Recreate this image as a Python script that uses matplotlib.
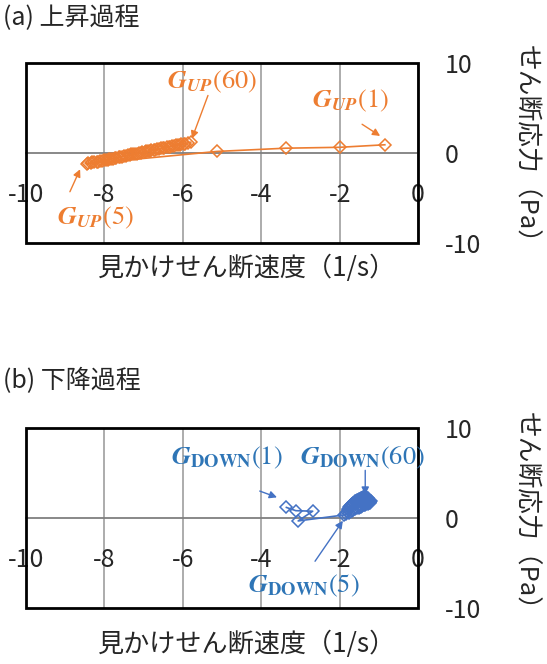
import matplotlib
matplotlib.use('Agg')
import matplotlib.pyplot as plt
from matplotlib.patches import Rectangle

plt.rcParams['font.family'] = ['Noto Sans CJK JP', 'DejaVu Sans']
plt.rcParams['mathtext.fontset'] = 'stix'

# shear rate (1/s) and shear stress (Pa), rising process, cycles 1..60
up_x = [-0.85, -2.00, -3.38, -5.13,
        -8.45, -8.41, -8.35, -8.31, -8.26, -8.20, -8.16, -8.12, -8.06, -8.02,
        -7.97, -7.92, -7.88, -7.84, -7.78, -7.74, -7.70, -7.64, -7.60, -7.55,
        -7.50, -7.46, -7.40, -7.36, -7.32, -7.27, -7.21, -7.17, -7.13, -7.08,
        -7.03, -6.97, -6.94, -6.88, -6.84, -6.80, -6.74, -6.70, -6.66, -6.60,
        -6.55, -6.51, -6.47, -6.41, -6.36, -6.32, -6.27, -6.23, -6.17, -6.13,
        -6.08, -6.04, -5.98, -5.94, -5.88, -5.80]
up_y = [0.92, 0.64, 0.54, 0.18,
        -1.20, -1.15, -1.12, -1.05, -1.03, -0.97, -0.95, -0.89, -0.86, -0.80,
        -0.78, -0.72, -0.69, -0.63, -0.61, -0.55, -0.52, -0.47, -0.42, -0.40,
        -0.33, -0.31, -0.25, -0.22, -0.16, -0.14, -0.08, -0.05, 0.01, 0.03,
        0.10, 0.12, 0.19, 0.20, 0.27, 0.29, 0.35, 0.37, 0.44, 0.46,
        0.52, 0.55, 0.61, 0.64, 0.69, 0.72, 0.78, 0.81, 0.86, 0.89,
        0.95, 0.98, 1.03, 1.06, 1.12, 1.20]

# falling process, cycles 1..60
down_x = [-3.36, -3.12, -2.69, -3.06, -1.88,
          -1.84, -1.76, -1.82, -1.70, -1.80, -1.66, -1.78, -1.60, -1.76, -1.56,
          -1.74, -1.52, -1.72, -1.48, -1.70, -1.45, -1.68, -1.42, -1.66, -1.38,
          -1.64, -1.35, -1.62, -1.32, -1.60, -1.28, -1.58, -1.26, -1.56, -1.24,
          -1.54, -1.22, -1.52, -1.24, -1.50, -1.21, -1.48, -1.23, -1.46, -1.26,
          -1.44, -1.25, -1.42, -1.28, -1.45, -1.30, -1.40, -1.27, -1.41, -1.32,
          -1.38, -1.31, -1.39, -1.34, -1.35]
down_y = [1.18, 0.82, 0.76, -0.32, 0.35,
          0.45, 0.58, 0.72, 0.80, 0.92, 0.90, 1.05, 1.00, 1.18, 1.08,
          1.30, 1.15, 1.40, 1.20, 1.50, 1.28, 1.58, 1.34, 1.64, 1.40,
          1.72, 1.46, 1.78, 1.52, 1.84, 1.58, 1.90, 1.62, 1.96, 1.68,
          2.00, 1.74, 2.05, 1.80, 2.08, 1.86, 2.12, 1.92, 2.15, 1.98,
          2.18, 2.04, 2.22, 2.10, 2.24, 2.15, 2.27, 2.20, 2.30, 2.24,
          2.32, 2.28, 2.34, 2.30, 2.35]

x_ticks = [-10, -8, -6, -4, -2, 0]
y_ticks = [-10, 0, 10]

ORANGE = '#ED7D31'
BLUE = '#4472C4'
BLUE_TXT = '#2E75B6'
TXT = '#262626'

fig = plt.figure(figsize=(5.47, 6.64), dpi=100)
ax1 = fig.add_axes([0.0475, 0.634, 0.717, 0.271])
ax2 = fig.add_axes([0.0475, 0.0843, 0.717, 0.271])


def style_axes(ax):
    ax.set_xlim(-10, 0)
    ax.set_ylim(-10, 10)
    ax.set_xticks(x_ticks)
    ax.set_yticks(y_ticks)
    ax.set_xticklabels([str(v) for v in x_ticks])
    ax.set_yticklabels([str(v) for v in y_ticks])
    # x axis crosses at y = 0, y axis sits on the right (x = 0)
    ax.spines['bottom'].set_position(('data', 0))
    ax.spines['bottom'].set_color('#7F7F7F')
    ax.spines['bottom'].set_linewidth(1.3)
    for side in ['top', 'left', 'right']:
        ax.spines[side].set_visible(False)
    ax.yaxis.tick_right()
    ax.tick_params(axis='x', length=0, pad=21, labelsize=18, labelcolor=TXT)
    ax.tick_params(axis='y', length=0, pad=19, labelsize=18, labelcolor=TXT)
    ax.grid(axis='x', color='#A6A6A6', lw=1.3)
    ax.set_axisbelow(True)
    ax.add_patch(Rectangle((0, 0), 1, 1, transform=ax.transAxes, fill=False,
                           edgecolor='black', lw=2, clip_on=False, zorder=5))


def arrow(ax, start, tip, color):
    ax.annotate('', xy=tip, xytext=start,
                arrowprops=dict(arrowstyle='-|>', color=color, lw=1.0,
                                mutation_scale=11, shrinkA=0, shrinkB=0))


style_axes(ax1)
style_axes(ax2)

line_kw = dict(lw=1.2, marker='D', markersize=6, markerfacecolor='none',
               markeredgewidth=1.1, zorder=3)
ax1.plot(up_x, up_y, color=ORANGE, markeredgecolor=ORANGE, **line_kw)
ax2.plot(down_x, down_y, color=BLUE, markeredgecolor=BLUE, **line_kw)

lab_kw = dict(fontsize=19, ha='center', va='center', zorder=6)
ax1.text(-5.26, 7.9, r'$\mathbfit{G}_{\mathbfit{UP}}\mathrm{(60)}$', color=ORANGE, **lab_kw)
ax1.text(-1.73, 5.8, r'$\mathbfit{G}_{\mathbfit{UP}}\mathrm{(1)}$', color=ORANGE, **lab_kw)
ax1.text(-8.24, -7.2, r'$\mathbfit{G}_{\mathbfit{UP}}\mathrm{(5)}$', color=ORANGE, **lab_kw)
arrow(ax1, (-5.36, 6.4), (-5.77, 1.6), ORANGE)
arrow(ax1, (-1.43, 3.2), (-0.97, 1.9), ORANGE)
arrow(ax1, (-8.88, -4.3), (-8.62, -1.8), ORANGE)

ax2.text(-4.87, 6.7, r'$\mathbfit{G}_{\mathbf{DOWN}}\mathrm{(1)}$', color=BLUE_TXT, **lab_kw)
ax2.text(-1.43, 6.7, r'$\mathbfit{G}_{\mathbf{DOWN}}\mathrm{(60)}$', color=BLUE_TXT, **lab_kw)
ax2.text(-2.91, -7.5, r'$\mathbfit{G}_{\mathbf{DOWN}}\mathrm{(5)}$', color=BLUE_TXT, **lab_kw)
arrow(ax2, (-4.04, 3.0), (-3.6, 2.3), BLUE)
arrow(ax2, (-1.35, 5.3), (-1.35, 2.6), BLUE)
arrow(ax2, (-2.63, -4.8), (-1.92, -0.3), BLUE)

# panel titles and axis labels
fig.text(0.005, 0.973, '(a) 上昇過程', fontsize=18, color=TXT, va='center')
fig.text(0.005, 0.426, '(b) 下降過程', fontsize=18, color=TXT, va='center')
for yc in [0.596, 0.029]:
    fig.text(0.4516, yc, '見かけせん断速度（1/s）', fontsize=18.8, color=TXT,
             ha='center', va='center')
for yc in [0.773, 0.221]:
    fig.text(0.96, yc, 'せん断応力（Pa）', fontsize=18.5, color=TXT,
             rotation=-90, ha='center', va='center')

fig.savefig('out.png', dpi=100)
